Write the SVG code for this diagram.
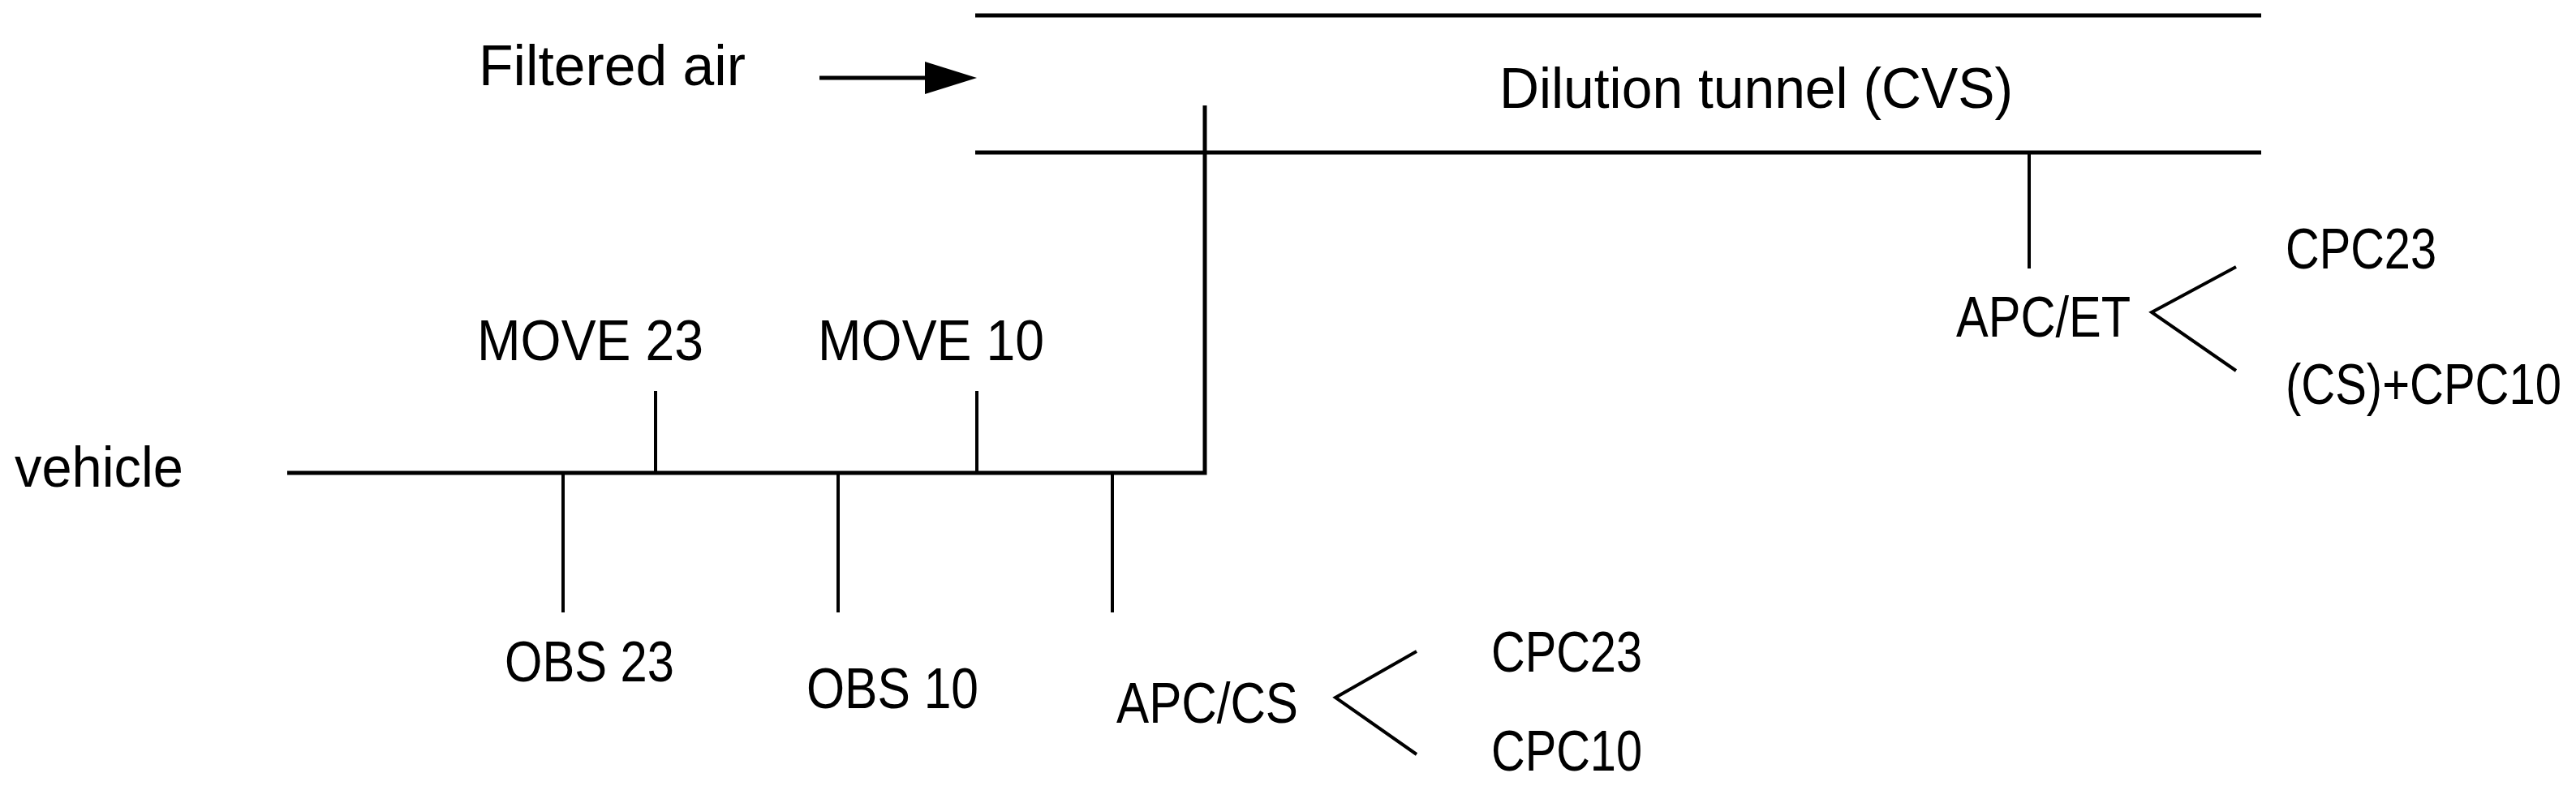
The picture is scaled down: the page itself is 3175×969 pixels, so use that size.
<svg xmlns="http://www.w3.org/2000/svg" width="3175" height="969" viewBox="0 0 3175 969">
<style>
text{font-family:"Liberation Sans",Arial,sans-serif;font-size:70px;fill:#000}
.thick{stroke:#000;stroke-width:5;fill:none}
.thin{stroke:#000;stroke-width:4;fill:none}
</style>
<rect width="3175" height="969" fill="#fff"/>
<g id="connectors">
<line class="thick" x1="1202" y1="19" x2="2787" y2="19"/>
<line class="thick" x1="1202" y1="188" x2="2787" y2="188"/>
<line class="thick" x1="1010" y1="96" x2="1150" y2="96"/>
<polygon points="1140,76 1204,96 1140,116" fill="#000"/>
<polyline class="thick" points="354,583 1485,583 1485,130"/>
<line class="thin" x1="808" y1="482" x2="808" y2="583"/>
<line class="thin" x1="1204" y1="482" x2="1204" y2="583"/>
<line class="thin" x1="694" y1="583" x2="694" y2="755"/>
<line class="thin" x1="1033" y1="583" x2="1033" y2="755"/>
<line class="thin" x1="1371" y1="583" x2="1371" y2="755"/>
<line class="thin" x1="2501" y1="188" x2="2501" y2="331"/>
<polyline class="thin" points="2756,329 2652,385 2756,457"/>
<polyline class="thin" points="1746,803 1646,860 1746,930"/>
</g>
<g id="filtered-air"><text x="590" y="105" textLength="329" lengthAdjust="spacingAndGlyphs">Filtered air</text></g>
<g id="tunnel"><text x="1848" y="133" textLength="633" lengthAdjust="spacingAndGlyphs">Dilution tunnel (CVS)</text></g>
<g id="vehicle"><text x="18" y="600" textLength="208" lengthAdjust="spacingAndGlyphs">vehicle</text></g>
<g id="move23"><text x="588" y="444" textLength="279" lengthAdjust="spacingAndGlyphs">MOVE 23</text></g>
<g id="move10"><text x="1008" y="444" textLength="279" lengthAdjust="spacingAndGlyphs">MOVE 10</text></g>
<g id="obs23"><text x="622" y="840" textLength="209" lengthAdjust="spacingAndGlyphs">OBS 23</text></g>
<g id="obs10"><text x="994" y="873" textLength="212" lengthAdjust="spacingAndGlyphs">OBS 10</text></g>
<g id="apccs"><text x="1376" y="891" textLength="224" lengthAdjust="spacingAndGlyphs">APC/CS</text></g>
<g id="cpc23-cs"><text x="1838" y="828" textLength="186" lengthAdjust="spacingAndGlyphs">CPC23</text></g>
<g id="cpc10-cs"><text x="1838" y="950" textLength="186" lengthAdjust="spacingAndGlyphs">CPC10</text></g>
<g id="apcet"><text x="2411" y="415" textLength="215" lengthAdjust="spacingAndGlyphs">APC/ET</text></g>
<g id="cpc23-et"><text x="2817" y="331" textLength="186" lengthAdjust="spacingAndGlyphs">CPC23</text></g>
<g id="cpc10-et"><text x="2817" y="498" textLength="340" lengthAdjust="spacingAndGlyphs">(CS)+CPC10</text></g>
</svg>
